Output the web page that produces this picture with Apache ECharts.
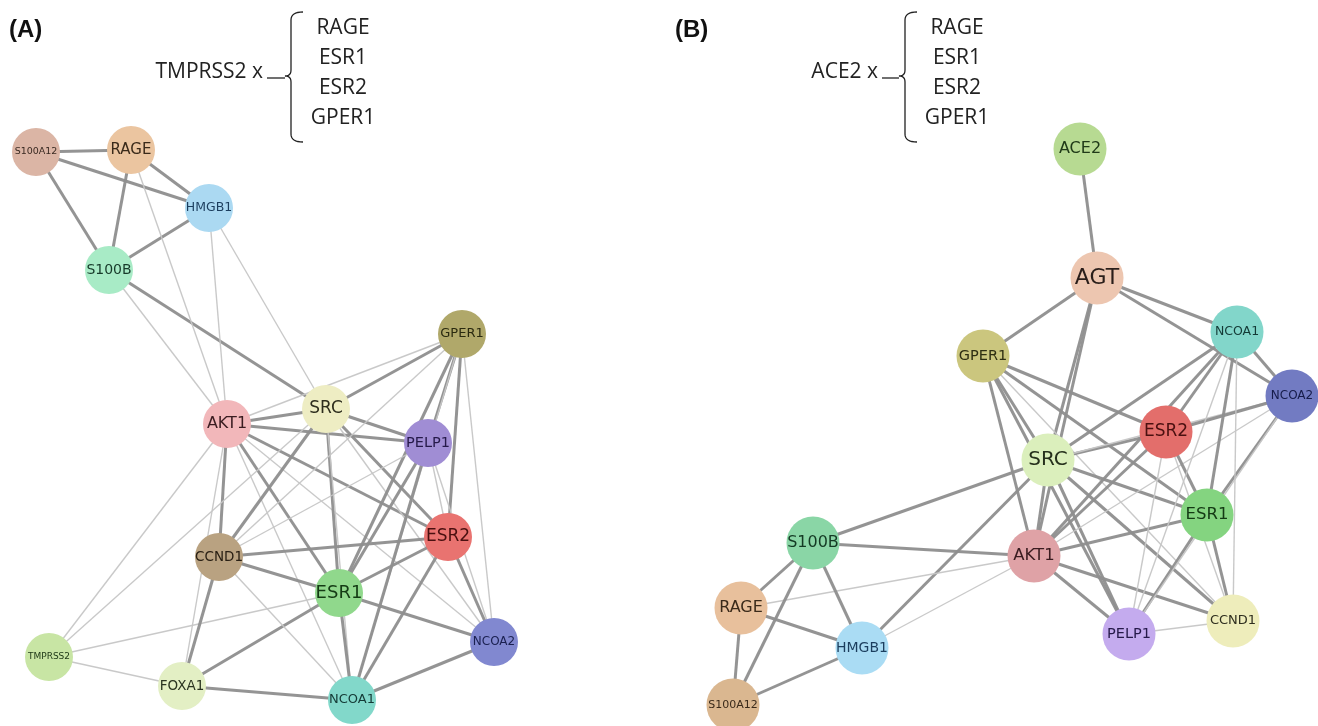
<!DOCTYPE html>
<html>
<head>
<meta charset="utf-8">
<script src="https://cdn.jsdelivr.net/npm/echarts@6/dist/echarts.min.js"></script>
<style>
html,body{margin:0;padding:0;background:#fff;}
#chart{width:1318px;height:726px;}
</style>
</head>
<body>
<div id="chart"></div>
<script>
// ---------- Panel A data ----------
const nodesA = ['S100A12','RAGE','HMGB1','S100B','GPER1','SRC','AKT1','PELP1','ESR2','CCND1','ESR1','NCOA2','TMPRSS2','FOXA1','NCOA1'];
const xA = [36, 131, 209, 109, 462, 326, 227, 428, 448, 219, 339, 494, 49, 182, 352];
const yA = [152, 150, 208, 270, 334, 409, 424, 443, 537, 557, 593, 642, 657, 686, 700];
// [source, target, strong(1)/weak(0)]
const edgesA = [
  ['S100A12','RAGE',1],['S100A12','HMGB1',1],['S100A12','S100B',1],['RAGE','HMGB1',1],['RAGE','S100B',1],
  ['HMGB1','S100B',1],['S100B','SRC',1],['S100B','AKT1',0],['RAGE','AKT1',0],['HMGB1','AKT1',0],['HMGB1','SRC',0],
  ['AKT1','SRC',1],['AKT1','GPER1',0],['SRC','GPER1',1],['AKT1','PELP1',1],['SRC','PELP1',1],['AKT1','ESR2',1],
  ['AKT1','ESR1',1],['AKT1','CCND1',1],['AKT1','NCOA1',0],['AKT1','NCOA2',0],['AKT1','TMPRSS2',0],['AKT1','FOXA1',0],
  ['SRC','CCND1',1],['SRC','ESR1',1],['SRC','ESR2',1],['SRC','NCOA1',0],['SRC','NCOA2',0],['SRC','TMPRSS2',0],
  ['GPER1','PELP1',1],['GPER1','ESR2',1],['GPER1','ESR1',1],['GPER1','CCND1',0],['GPER1','NCOA1',0],['GPER1','NCOA2',0],
  ['PELP1','ESR1',1],['PELP1','NCOA1',1],['PELP1','ESR2',0],['PELP1','NCOA2',0],['PELP1','CCND1',0],
  ['ESR2','CCND1',1],['ESR2','ESR1',1],['ESR2','NCOA1',1],['ESR2','NCOA2',1],
  ['ESR1','CCND1',1],['ESR1','NCOA1',1],['ESR1','NCOA2',1],['ESR1','FOXA1',1],['ESR1','TMPRSS2',0],
  ['CCND1','FOXA1',1],['CCND1','NCOA1',0],['FOXA1','NCOA1',1],['FOXA1','TMPRSS2',0],['NCOA1','NCOA2',1]
];

// ---------- Panel B data ----------
const nodesB = ['ACE2','AGT','GPER1','NCOA1','NCOA2','ESR2','SRC','ESR1','AKT1','PELP1','CCND1','S100B','RAGE','HMGB1','S100A12'];
const xB = [1080, 1097, 983, 1237, 1292, 1166, 1048, 1207, 1034, 1129, 1233, 813, 741, 862, 733];
const yB = [149, 278, 356, 332, 396, 432, 460, 515, 556, 634, 621, 543, 608, 648, 705];
const edgesB = [
  ['ACE2','AGT',1],['AGT','GPER1',1],['AGT','SRC',1],['AGT','AKT1',1],['AGT','NCOA1',1],['AGT','NCOA2',1],
  ['GPER1','SRC',1],['GPER1','AKT1',1],['GPER1','ESR2',1],['GPER1','ESR1',1],['GPER1','PELP1',1],['GPER1','CCND1',0],
  ['SRC','ESR2',1],['SRC','NCOA1',1],['SRC','ESR1',1],['SRC','AKT1',1],['SRC','PELP1',1],['SRC','CCND1',1],
  ['SRC','S100B',1],['SRC','HMGB1',1],['SRC','NCOA2',0],
  ['AKT1','S100B',1],['AKT1','RAGE',0],['AKT1','HMGB1',0],['AKT1','ESR2',1],['AKT1','ESR1',1],['AKT1','CCND1',1],
  ['AKT1','PELP1',1],['AKT1','NCOA1',1],['AKT1','NCOA2',0],
  ['ESR2','NCOA1',1],['ESR2','NCOA2',1],['ESR2','ESR1',1],['ESR2','PELP1',0],['ESR2','CCND1',0],
  ['ESR1','NCOA1',1],['ESR1','NCOA2',1],['ESR1','CCND1',1],['ESR1','PELP1',1],
  ['NCOA1','NCOA2',1],['NCOA1','CCND1',0],['NCOA1','PELP1',0],['PELP1','CCND1',0],['PELP1','NCOA2',0],
  ['S100B','RAGE',1],['S100B','HMGB1',1],['S100B','S100A12',1],['RAGE','HMGB1',1],['RAGE','S100A12',1],['HMGB1','S100A12',1]
];

// ---------- Annotation texts ----------
const queryA = 'TMPRSS2 x';
const queryB = 'ACE2 x';
const targetList = ['RAGE','ESR1','ESR2','GPER1'];

// ---------- Styles (kept separate from data) ----------
const styleA = {
  S100A12:{c:'#dbb5a5',fs:9.5,t:'#3a2a22'}, RAGE:{c:'#ebc5a0',fs:15,t:'#3a2a1a'}, HMGB1:{c:'#abd9f2',fs:12.5,t:'#1c3e5e'},
  S100B:{c:'#a8ebc6',fs:14,t:'#173a2a'}, GPER1:{c:'#b0a86a',fs:13,t:'#2a2a10'}, SRC:{c:'#eeedc3',fs:17,t:'#2e2e1e'},
  AKT1:{c:'#f2b7ba',fs:16,t:'#3a1c20'}, PELP1:{c:'#a08dd4',fs:14.5,t:'#261a4a'}, ESR2:{c:'#e97370',fs:17,t:'#4a1010'},
  CCND1:{c:'#b9a281',fs:13.5,t:'#2a2014'}, ESR1:{c:'#90d88c',fs:18,t:'#143a14'}, NCOA2:{c:'#8188d0',fs:12,t:'#1a2050'},
  TMPRSS2:{c:'#c8e5a4',fs:9,t:'#203a18'}, FOXA1:{c:'#e3efc4',fs:13.5,t:'#2a3420'}, NCOA1:{c:'#82d8ca',fs:13,t:'#143a36'}
};
const styleB = {
  ACE2:{c:'#b7da92',fs:16,t:'#203a18'}, AGT:{c:'#edc6b0',fs:22,t:'#2a1e1a'}, GPER1:{c:'#cbc67e',fs:14.5,t:'#2e2e12'},
  NCOA1:{c:'#82d6ca',fs:12.5,t:'#143a36'}, NCOA2:{c:'#727bc2',fs:12,t:'#161c4a'}, ESR2:{c:'#e36e6b',fs:17,t:'#4a1010'},
  SRC:{c:'#dbefbc',fs:20,t:'#26301c'}, ESR1:{c:'#84d480',fs:16.5,t:'#143a14'}, AKT1:{c:'#dfa2a6',fs:16.5,t:'#3a1c20'},
  PELP1:{c:'#c4abee',fs:14.5,t:'#261a4a'}, CCND1:{c:'#eeedbb',fs:13,t:'#2e2e1e'}, S100B:{c:'#8ad6a6',fs:16,t:'#143a24'},
  RAGE:{c:'#e8c09c',fs:16,t:'#3a2a1a'}, HMGB1:{c:'#aadcf4',fs:14,t:'#1c3e5e'}, S100A12:{c:'#dab790',fs:11,t:'#3a2a1a'}
};

function buildNodes(names, xs, ys, style, size) {
  return names.map((n, i) => ({
    name: n,
    value: [xs[i], ys[i]],
    symbolSize: size,
    itemStyle: { color: style[n].c },
    label: { show: true, position: 'inside', formatter: n, fontSize: style[n].fs, color: style[n].t,
             fontFamily: '"DejaVu Sans", Lato, sans-serif', fontWeight: 'normal' }
  }));
}
function buildLinks(edges) {
  return edges.map(e => ({
    source: e[0], target: e[1],
    lineStyle: e[2] ? { color: '#8e8e8e', width: 3, opacity: 0.95, curveness: 0 } : { color: '#c6c6c6', width: 1.4, opacity: 0.95, curveness: 0 }
  }));
}

const chart = echarts.init(document.getElementById('chart'), null, { renderer: 'canvas' });

// quadratic curve sampled to points
function quad(p0, c, p1, n) {
  const pts = [];
  for (let i = 0; i <= n; i++) {
    const t = i / n;
    pts.push([(1-t)*(1-t)*p0[0] + 2*(1-t)*t*c[0] + t*t*p1[0], (1-t)*(1-t)*p0[1] + 2*(1-t)*t*c[1] + t*t*p1[1]]);
  }
  return pts;
}
function bracePoints(x, yTop, yBot, yMid) {
  let pts = [];
  pts = pts.concat(quad([x + 12, yTop], [x, yTop], [x, yTop + 8], 8));
  pts.push([x, yMid - 6]);
  pts = pts.concat(quad([x, yMid - 6], [x, yMid], [x - 6, yMid], 6));
  pts = pts.concat(quad([x - 6, yMid], [x, yMid], [x, yMid + 6], 6));
  pts.push([x, yBot - 8]);
  pts = pts.concat(quad([x, yBot - 8], [x, yBot], [x + 12, yBot], 8));
  return pts;
}
function annot(labelText, labelRight, braceX, listX) {
  const els = [];
  els.push({ type: 'text', style: { text: labelText, x: labelRight, y: 72, align: 'right', verticalAlign: 'middle',
             font: '21px "Open Sans", Lato, sans-serif', fill: '#222' } });
  els.push({ type: 'line', shape: { x1: labelRight + 4, y1: 78, x2: braceX - 6, y2: 78 }, style: { stroke: '#222', lineWidth: 1.3 } });
  els.push({ type: 'polyline', shape: { points: bracePoints(braceX, 12, 142, 76) }, style: { stroke: '#222', lineWidth: 1.3, fill: null } });
  targetList.forEach((t, i) => {
    els.push({ type: 'text', style: { text: t, x: listX, y: 28 + i * 30, align: 'center', verticalAlign: 'middle',
               font: '21px "Open Sans", Lato, sans-serif', fill: '#222' } });
  });
  return els;
}

const graphics = [
  { type: 'text', style: { text: '(A)', x: 9, y: 30, verticalAlign: 'middle', font: 'bold 24px "Liberation Sans", Arial, sans-serif', fill: '#111' } },
  { type: 'text', style: { text: '(B)', x: 675, y: 30, verticalAlign: 'middle', font: 'bold 24px "Liberation Sans", Arial, sans-serif', fill: '#111' } }
].concat(annot(queryA, 263, 291, 343)).concat(annot(queryB, 878, 905, 957));

chart.setOption({
  backgroundColor: '#ffffff',
  animation: false,
  grid: { left: 0, right: 0, top: 0, bottom: 0 },
  xAxis: { type: 'value', min: 0, max: 1318, show: false },
  yAxis: { type: 'value', min: 0, max: 726, inverse: true, show: false },
  graphic: graphics,
  series: [
    { type: 'graph', coordinateSystem: 'cartesian2d', layout: 'none', z: 2,
      data: buildNodes(nodesA, xA, yA, styleA, 48), links: buildLinks(edgesA) },
    { type: 'graph', coordinateSystem: 'cartesian2d', layout: 'none', z: 2,
      data: buildNodes(nodesB, xB, yB, styleB, 53), links: buildLinks(edgesB) }
  ]
});
</script>
</body>
</html>
